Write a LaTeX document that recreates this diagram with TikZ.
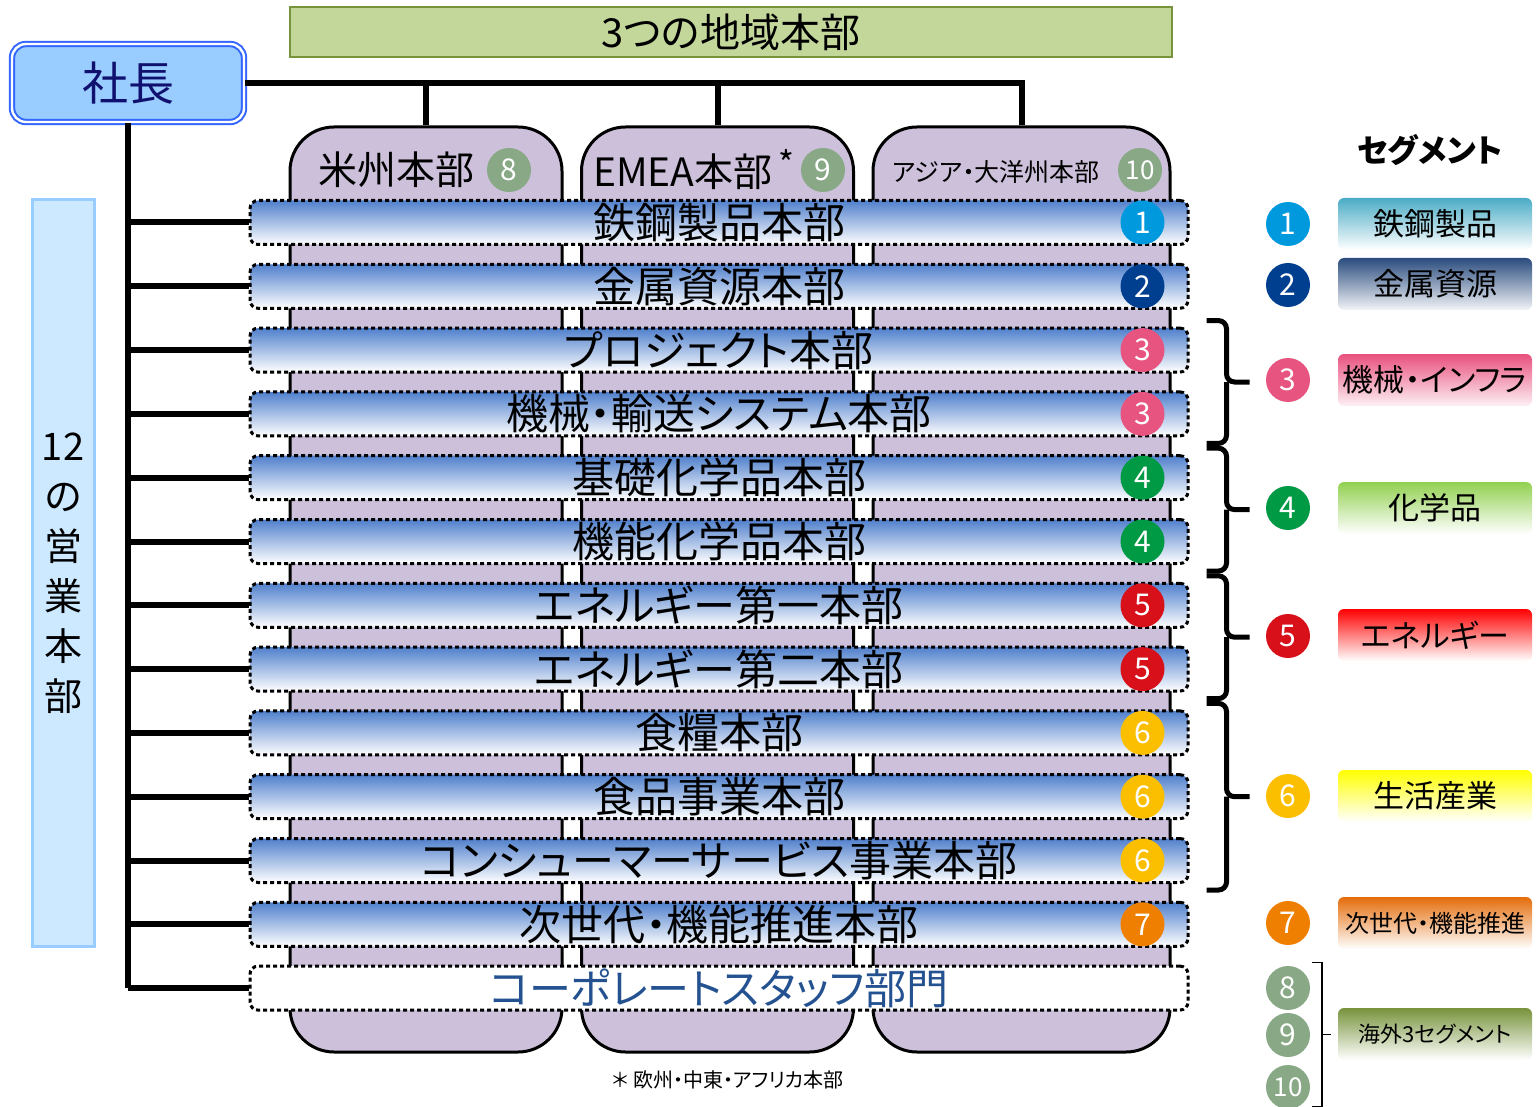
\documentclass[tikz,border=0pt]{standalone}
\usepackage{fontspec}
\setmainfont{Noto Sans CJK JP}[RawFeature=+palt]
\usetikzlibrary{positioning,calc}
\definecolor{ceofill}{HTML}{99CCFF}
\definecolor{ceoline}{HTML}{3366FF}
\definecolor{ceotext}{HTML}{10106E}
\definecolor{regfill}{HTML}{C4D79B}
\definecolor{regline}{HTML}{77933C}
\definecolor{colfill}{HTML}{CCC0DA}
\definecolor{salesfill}{HTML}{CCE9FF}
\definecolor{salesline}{HTML}{99CCFF}
\definecolor{barblue}{HTML}{5080CC}
\definecolor{staffblue}{HTML}{245190}
\definecolor{dotA}{HTML}{0099DD}
\definecolor{dotB}{HTML}{003F8F}
\definecolor{dotC}{HTML}{E75480}
\definecolor{dotD}{HTML}{009944}
\definecolor{dotE}{HTML}{D7101A}
\definecolor{dotF}{HTML}{FBBF00}
\definecolor{dotG}{HTML}{EE7F00}
\definecolor{dotH}{HTML}{88A886}
\definecolor{segA}{HTML}{4BACC6}
\definecolor{segB}{HTML}{2A4C7E}
\definecolor{segC}{HTML}{E8507E}
\definecolor{segD}{HTML}{92D050}
\definecolor{segE}{HTML}{FF0000}
\definecolor{segF}{HTML}{FFFF00}
\definecolor{segG}{HTML}{E46C0A}
\definecolor{segH}{HTML}{77933C}

\begin{document}
\begin{tikzpicture}[x=0.5pt,y=-0.5pt,
										node distance=8.4pt,
										link/.style={line width=3pt},
										column/.style={draw,fill=colfill,line width=1.5pt,rounded corners=22pt,
																	minimum width=136pt,minimum height=462.5pt},
										bar/.style={draw,line width=1.5pt,dash pattern=on 2pt off 1.5pt,rounded corners=4pt,
																top color=barblue,bottom color=white,minimum width=469pt,minimum height=22pt,
																inner sep=0pt,text height=18pt,text depth=2pt,font=\fontsize{21}{21}\selectfont},
										numdot/.style={circle,minimum size=22pt,inner sep=0pt,text=white,
																	font=\fontsize{15}{15}\selectfont},
										seg/.style={rounded corners=3pt,minimum width=97pt,minimum height=26pt,inner sep=0pt,
																bottom color=white},
										segbracket/.style={line width=2.5pt,rounded corners=4pt}]
	\useasboundingbox (0,0) rectangle (1537,1107);
	\node [draw=regline,fill=regfill,line width=1pt,minimum width=441pt,minimum height=23pt,
				font=\fontsize{20}{20}\selectfont] (regions) at (731,32) {3つの地域本部};
	\node [draw=ceoline,double=white,double distance=1.2pt,line width=1pt,fill=ceofill,rounded corners=7pt,
				minimum width=116pt,minimum height=39pt,text=ceotext,font=\fontsize{23}{23}\selectfont] (ceo) at (128,83) {社長};
	\node [draw=salesline,fill=salesfill,line width=1.5pt,minimum width=31pt,minimum height=373pt,inner sep=0pt,
				align=center,font=\fontsize{19}{25}\selectfont] (sales) at (63,573) {12\\の\\営\\業\\本\\部};

	\node [column] (col1) at (426,589.5) {};
	\node [column] (col2) at (717.5,589.5) {};
	\node [column,minimum width=148.5pt] (col3) at (1021.5,589.5) {};
	\node [font=\fontsize{19.5}{19.5}\selectfont] (lab1) at (396,170) {米州本部};
	\node [numdot,fill=dotH] (r8) at (509,170) {8};
	\node [font=\fontsize{19.5}{19.5}\selectfont] (lab2) at (694,170) {EMEA本部\,\raisebox{5pt}{\fontsize{17}{17}\selectfont *}};
	\node [numdot,fill=dotH] (r9) at (823,170) {9};
	\node [font=\fontsize{12.5}{12.5}\selectfont] (lab3) at (996,172) {アジア・大洋州本部};
	\node [numdot,fill=dotH,font=\fontsize{13}{13}\selectfont] (r10) at (1140,170) {10};

	\node [bar] (b1) at (719,222.5) {鉄鋼製品本部};
	\node [bar,below=of b1] (b2) {金属資源本部};
	\node [bar,below=of b2] (b3) {プロジェクト本部};
	\node [bar,below=of b3] (b4) {機械・輸送システム本部};
	\node [bar,below=of b4] (b5) {基礎化学品本部};
	\node [bar,below=of b5] (b6) {機能化学品本部};
	\node [bar,below=of b6] (b7) {エネルギー第一本部};
	\node [bar,below=of b7] (b8) {エネルギー第二本部};
	\node [bar,below=of b8] (b9) {食糧本部};
	\node [bar,below=of b9] (b10) {食品事業本部};
	\node [bar,below=of b10] (b11) {コンシューマーサービス事業本部};
	\node [bar,below=of b11] (b12) {次世代・機能推進本部};
	\node [bar,below=of b12,top color=white,text=staffblue] (b13) {コーポレートスタッフ部門};

	\node [numdot,fill=dotA] (n1) at ([xshift=-23.5pt]b1.east) {1};
	\node [numdot,fill=dotB] (n2) at ([xshift=-23.5pt]b2.east) {2};
	\node [numdot,fill=dotC] (n3) at ([xshift=-23.5pt]b3.east) {3};
	\node [numdot,fill=dotC] (n4) at ([xshift=-23.5pt]b4.east) {3};
	\node [numdot,fill=dotD] (n5) at ([xshift=-23.5pt]b5.east) {4};
	\node [numdot,fill=dotD] (n6) at ([xshift=-23.5pt]b6.east) {4};
	\node [numdot,fill=dotE] (n7) at ([xshift=-23.5pt]b7.east) {5};
	\node [numdot,fill=dotE] (n8) at ([xshift=-23.5pt]b8.east) {5};
	\node [numdot,fill=dotF] (n9) at ([xshift=-23.5pt]b9.east) {6};
	\node [numdot,fill=dotF] (n10) at ([xshift=-23.5pt]b10.east) {6};
	\node [numdot,fill=dotF] (n11) at ([xshift=-23.5pt]b11.east) {6};
	\node [numdot,fill=dotG] (n12) at ([xshift=-23.5pt]b12.east) {7};

	\draw [link] (ceo.east) -| (col3.north);
	\draw [link] (ceo.east -| col1.north) -- (col1.north);
	\draw [link] (ceo.east -| col2.north) -- (col2.north);
	\draw [link] (ceo.south) -- (ceo.south |- b13.west);
	\foreach \i in {1,...,13}
		\draw [link] (ceo.south |- b\i.west) -- (b\i.west);

	\node [font=\fontsize{16}{16}\selectfont\bfseries] (segtitle) at (1430,150) {セグメント};
	\node [numdot,fill=dotA] (l1) at (1288,224) {1};
	\node [numdot,fill=dotB] (l2) at (1288,285) {2};
	\node [numdot,fill=dotC] (l3) at (1288,380) {3};
	\node [numdot,fill=dotD] (l4) at (1288,508) {4};
	\node [numdot,fill=dotE] (l5) at (1288,636) {5};
	\node [numdot,fill=dotF] (l6) at (1288,796) {6};
	\node [numdot,fill=dotG] (l7) at (1288,923) {7};
	\node [numdot,fill=dotH] (l8) at (1288,988) {8};
	\node [numdot,fill=dotH] (l9) at (1288,1035) {9};
	\node [numdot,fill=dotH,font=\fontsize{13}{13}\selectfont] (l10) at (1288,1087) {10};
	\node [seg,top color=segA,font=\fontsize{15.5}{15.5}\selectfont] (s1) at (1435,224) {鉄鋼製品};
	\node [seg,top color=segB,bottom color=segB!6,font=\fontsize{15.5}{15.5}\selectfont] (s2) at (1435,284) {金属資源};
	\node [seg,top color=segC,bottom color=segC!8,font=\fontsize{15.5}{15.5}\selectfont] (s3) at (1435,380) {機械・インフラ};
	\node [seg,top color=segD,font=\fontsize{15.5}{15.5}\selectfont] (s4) at (1435,508) {化学品};
	\node [seg,top color=segE,font=\fontsize{15.5}{15.5}\selectfont] (s5) at (1435,635) {エネルギー};
	\node [seg,top color=segF,font=\fontsize{15.5}{15.5}\selectfont] (s6) at (1435,796) {生活産業};
	\node [seg,top color=segG,font=\fontsize{12}{12}\selectfont] (s7) at (1435,923) {次世代・機能推進};
	\node [seg,top color=segH,font=\fontsize{11}{11}\selectfont] (s8) at (1435,1034) {海外3セグメント};

	\foreach \t/\b/\k in {b3/b4/3,b5/b6/4,b7/b8/5,b9/b11/6}
	{
		\coordinate (g\k t) at ($(\t.north east)+(17,-6)$);
		\coordinate (g\k b) at ($(\b.south east)+(17,6)$);
		\coordinate (g\k m) at ($(g\k t)!0.5!(g\k b)+(20,0)$);
		\draw [segbracket] (g\k t) -- ++(20,0) -- (g\k m) -- ++(23,0);
		\draw [segbracket] (g\k m) -- (g\k b -| g\k m) -- (g\k b);
	}
	\coordinate (g8t) at ($(l8.north)+(24,-3)$);
	\coordinate (g8b) at ($(l10.south)+(24,-3)$);
	\coordinate (g8m) at ($(g8t)!0.5!(g8b)+(10,0)$);
	\draw [line width=0.8pt] (g8t) -- ++(10,0) -- (g8m) -- ++(9,0);
	\draw [line width=0.8pt] (g8m) -- (g8b -| g8m) -- (g8b);

	\node [font=\fontsize{10}{10}\selectfont] (note) at (728,1080) {＊ 欧州・中東・アフリカ本部};
\end{tikzpicture}
\end{document}
